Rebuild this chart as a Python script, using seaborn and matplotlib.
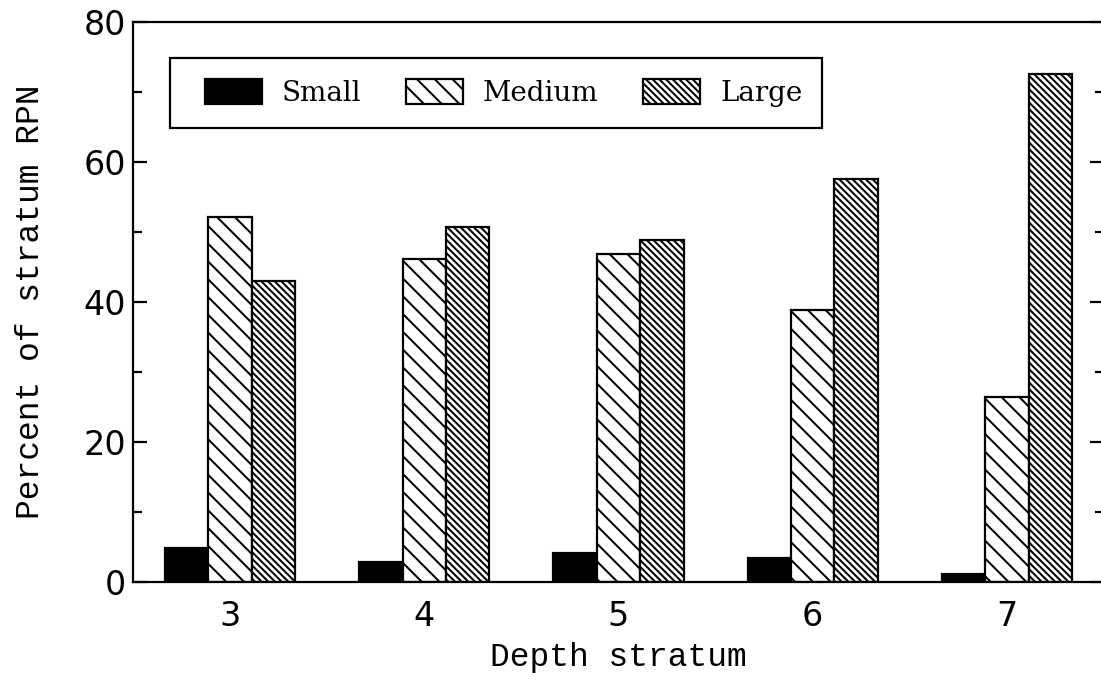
import matplotlib
matplotlib.use("Agg")
import matplotlib.pyplot as plt
from matplotlib.patches import Rectangle
from matplotlib.ticker import MultipleLocator
import pandas as pd
import seaborn as sns

# Share of stratum RPN by fish size class, per depth stratum
strata = ["3", "4", "5", "6", "7"]
size_classes = ["Small", "Medium", "Large"]
small = [4.9, 2.9, 4.1, 3.4, 1.1]
medium = [52.1, 46.1, 46.9, 38.9, 26.4]
large = [43.0, 50.7, 48.9, 57.6, 72.6]

df = pd.DataFrame({
    "stratum": strata * 3,
    "size": [s for s in size_classes for _ in strata],
    "pct": small + medium + large,
})

sns.set_theme(style="white")
plt.rcParams["hatch.color"] = "black"
plt.rcParams["hatch.linewidth"] = 0.9

DPI = 160
fig = plt.figure(figsize=(1101 / DPI, 698 / DPI), dpi=DPI)
ax = fig.add_axes([133 / 1101, 1 - 582 / 698, (1104 - 133) / 1101, (582 - 22) / 698])

sns.barplot(
    data=df, x="stratum", y="pct", hue="size", order=strata,
    hue_order=size_classes, palette=["black", "white", "white"],
    saturation=1, width=0.67, gap=0, edgecolor="black", linewidth=1.0,
    ax=ax, legend=False,
)

hatches = ["", "\\" * 3, "\\" * 8]
for container, h in zip(ax.containers, hatches):
    for bar in container:
        bar.set_hatch(h)
        bar.set_edgecolor("black")

ax.set_xlim(-0.5, 4.5)
ax.set_ylim(0, 80)
ax.yaxis.set_major_locator(MultipleLocator(20))
ax.yaxis.set_minor_locator(MultipleLocator(10))

for side in ["left", "right", "top", "bottom"]:
    ax.spines[side].set_visible(True)
    ax.spines[side].set_color("black")
    ax.spines[side].set_linewidth(1.0)

ax.tick_params(axis="y", which="major", direction="in", left=True, right=True,
               length=6.3, width=1.0, pad=3, color="black")
ax.tick_params(axis="y", which="minor", direction="in", left=True, right=True,
               length=4.0, width=1.0, color="black")
ax.tick_params(axis="x", length=0, pad=8)

for lab in ax.get_xticklabels() + ax.get_yticklabels():
    lab.set_fontfamily("DejaVu Sans")
    lab.set_fontsize(15)
    lab.set_color("black")

label_font = dict(family="Liberation Mono", size=14.8, color="black")
ax.set_xlabel("Depth stratum", labelpad=4, **label_font)
ax.set_ylabel("Percent of stratum RPN", labelpad=17, **label_font)

# Legend frame drawn as its own box, entries placed inside it
box_x0, box_x1 = 0.0381, 0.7096
box_y0, box_y1 = 0.8107, 0.9357
ax.add_patch(Rectangle((box_x0, box_y0), box_x1 - box_x0, box_y1 - box_y0,
                       transform=ax.transAxes, facecolor="white",
                       edgecolor="black", linewidth=1.0, zorder=4))
leg = ax.legend(
    handles=ax.containers, labels=size_classes, ncol=3,
    loc="center left", bbox_to_anchor=(0.0742, 0.873),
    prop={"family": "DejaVu Serif", "size": 12.5},
    frameon=False, borderpad=0, borderaxespad=0,
    handlelength=2.05, handleheight=1.0, handletextpad=0.72,
    columnspacing=1.6,
)
leg.set_zorder(5)
for t in leg.get_texts():
    t.set_color("black")

fig.savefig("out.png", dpi=DPI)
